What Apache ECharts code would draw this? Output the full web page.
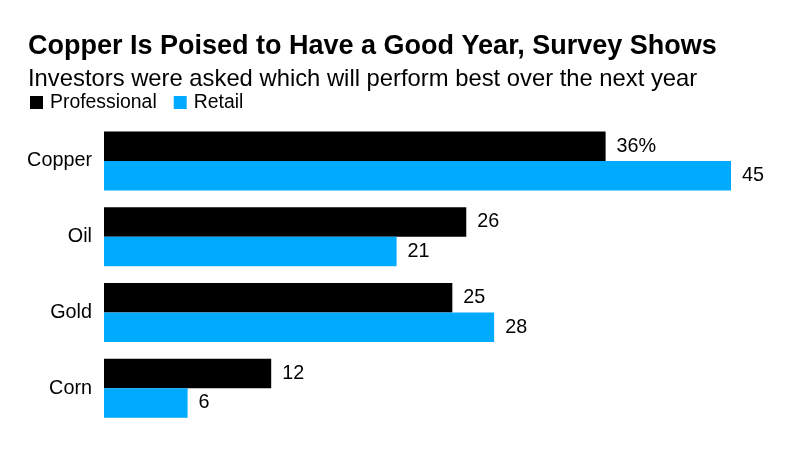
<!DOCTYPE html>
<html><head><meta charset="utf-8">
<script src="https://cdn.jsdelivr.net/npm/echarts@6/dist/echarts.min.js"></script>
<style>html,body{margin:0;padding:0;background:#fff}#c{width:803px;height:468px}</style>
</head><body><div id="c"></div>
<script>
const categories = ['Copper', 'Oil', 'Gold', 'Corn'];
const professional = [36, 26, 25, 12];
const retail = [45, 21, 28, 6];
const F = '"Liberation Sans", Arial, Helvetica, sans-serif';
const chart = echarts.init(document.getElementById('c'), null, {renderer: 'canvas'});
chart.setOption({
  animation: false,
  backgroundColor: '#fff',
  title: [
    {text: 'Copper Is Poised to Have a Good Year, Survey Shows', left: 23, top: 28,
     textStyle: {fontFamily: F, fontSize: 27, fontWeight: 'bold', color: '#000'}},
    {text: 'Investors were asked which will perform best over the next year', left: 23, top: 62,
     textStyle: {fontFamily: F, fontSize: 23.8, fontWeight: 'normal', color: '#000'}}
  ],
  legend: {
    left: 25, top: 88, icon: 'rect', itemWidth: 13, itemHeight: 13, itemGap: 17,
    textStyle: {fontFamily: F, fontSize: 19.4, color: '#000', padding: [0, 0, 0, 2]},
    data: ['Professional', 'Retail']
  },
  grid: {left: 104, right: 72, top: 123, bottom: 42},
  xAxis: {type: 'value', min: 0, max: 45, show: false},
  yAxis: {
    type: 'category', data: categories, inverse: true,
    axisLine: {show: false}, axisTick: {show: false},
    axisLabel: {fontFamily: F, fontSize: 19.8, color: '#000', margin: 12}
  },
  series: [
    {name: 'Professional', type: 'bar', data: professional, barWidth: 29.5, barGap: '0%',
     itemStyle: {color: '#000'},
     label: {show: true, position: 'right', distance: 11, fontFamily: F, fontSize: 19.8, color: '#000',
       formatter: p => p.dataIndex === 0 ? p.value + '%' : String(p.value)}},
    {name: 'Retail', type: 'bar', data: retail, barWidth: 29.5, barGap: '0%',
     itemStyle: {color: '#00aaff'},
     label: {show: true, position: 'right', distance: 11, fontFamily: F, fontSize: 19.8, color: '#000'}}
  ]
});
</script></body></html>
